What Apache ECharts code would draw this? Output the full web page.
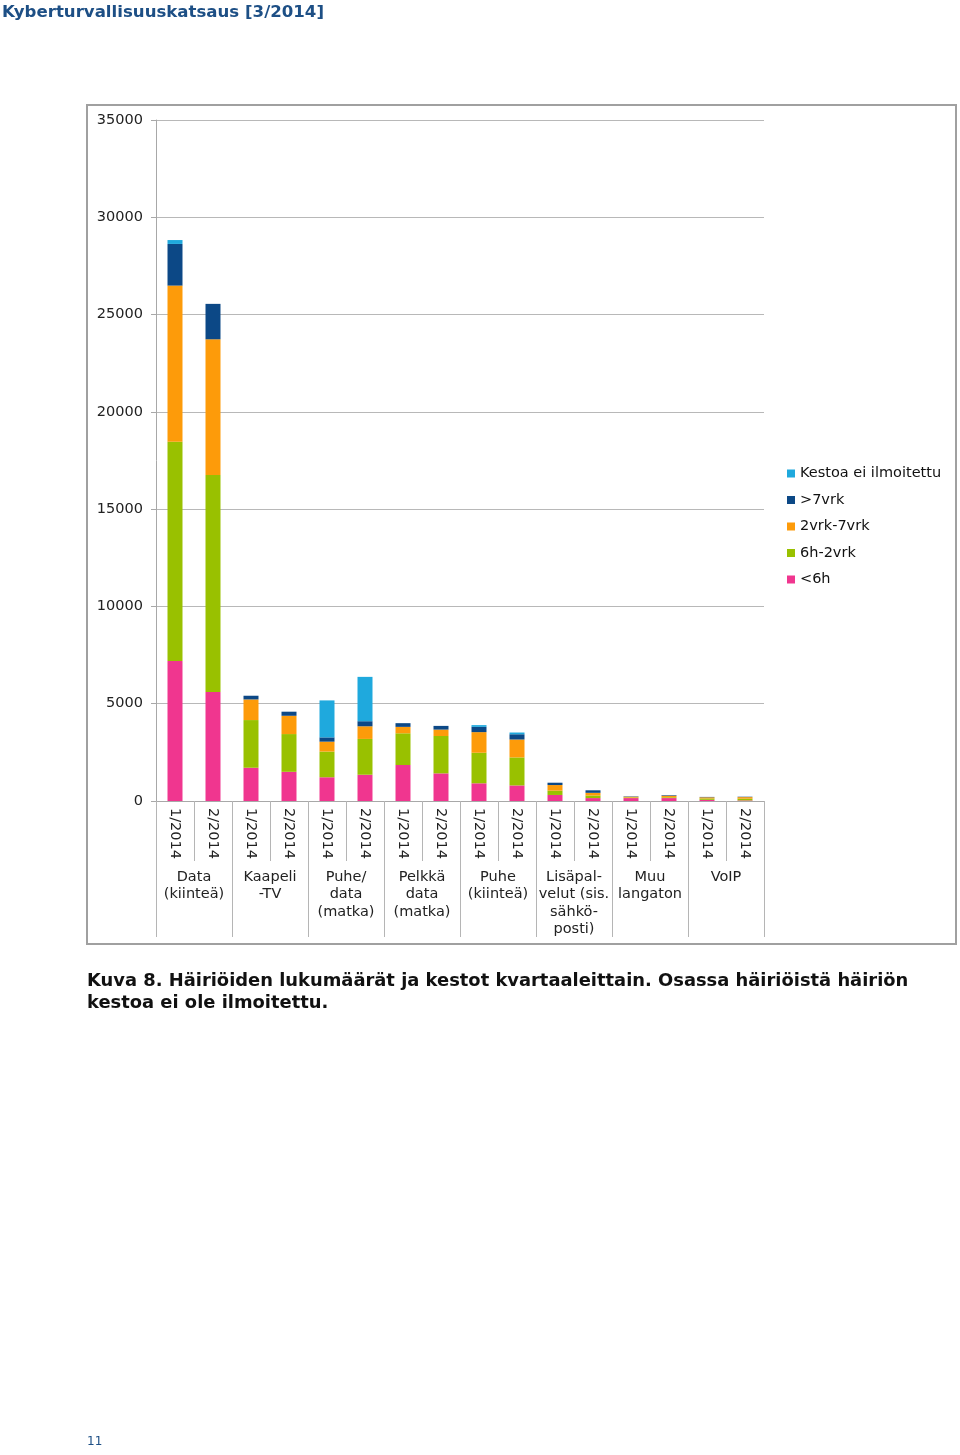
<!DOCTYPE html>
<html><head><meta charset="utf-8">
<script src="https://cdn.jsdelivr.net/npm/echarts@6/dist/echarts.min.js"></script>
<style>html,body{margin:0;padding:0;background:#fff}#c{width:960px;height:1455px}</style>
</head><body><div id="c"></div>
<script>
var periods = ["1/2014","2/2014","1/2014","2/2014","1/2014","2/2014","1/2014","2/2014","1/2014","2/2014","1/2014","2/2014","1/2014","2/2014","1/2014","2/2014"];
var groups = ["Data\n(kiinteä)","Kaapeli\n-TV","Puhe/\ndata\n(matka)","Pelkkä\ndata\n(matka)","Puhe\n(kiinteä)","Lisäpal-\nvelut (sis.\nsähkö-\nposti)","Muu\nlangaton","VoIP"];
var lt6h      = [7200,5600,1710,1500,1220,1350,1850,1420,910,800,310,150,150,150,60,30];
var h6_2vrk   = [11270,11150,2450,1940,1320,1840,1630,1920,1570,1440,220,130,30,40,70,90];
var vrk2_7    = [8020,6980,1060,940,510,650,330,330,1060,920,290,140,40,80,60,80];
var over7vrk  = [2140,1820,190,210,220,260,190,190,270,270,120,130,20,30,20,20];
var notGiven  = [200,0,0,0,1900,2280,0,0,90,90,0,0,0,0,0,0];
var yTicks = [0,5000,10000,15000,20000,25000,30000,35000];

var FONT = "DejaVu Sans";
var colors = {
  "<6h":"#f0368f","6h-2vrk":"#99c100","2vrk-7vrk":"#fd9b0a",">7vrk":"#0c4886","Kestoa ei ilmoitettu":"#1fa9dd"
};
function ser(name, data){
  return {name:name,type:'bar',stack:'s',data:data,barWidth:15,itemStyle:{color:colors[name]},xAxisIndex:0};
}
var chart = echarts.init(document.getElementById('c'));
chart.setOption({
  animation:false,
  textStyle:{fontFamily:FONT},
  grid:{left:156,right:196,top:120,bottom:654,containLabel:false},
  legend:{
    orient:'vertical',left:782,top:461,itemWidth:8,itemHeight:8,itemGap:11.5,icon:'rect',
    textStyle:{fontFamily:FONT,fontSize:14.5,color:'#111'},
    data:["Kestoa ei ilmoitettu",">7vrk","2vrk-7vrk","6h-2vrk","<6h"]
  },
  xAxis:[{
    type:'category',data:periods,position:'bottom',
    axisLine:{lineStyle:{color:'#a8a8a8',width:1}},
    axisTick:{show:true,interval:0,length:60,lineStyle:{color:'#b5b5b5'}},
    axisLabel:{interval:0,rotate:-90,margin:7,fontFamily:FONT,fontSize:14.5,color:'#222'}
  },{
    type:'category',data:groups,position:'bottom',
    axisLine:{show:false},
    axisTick:{show:true,interval:0,length:136,lineStyle:{color:'#b5b5b5'}},
    axisLabel:{interval:0,margin:67,fontFamily:FONT,fontSize:14.5,color:'#222',lineHeight:17.5,align:'center',verticalAlign:'top'}
  }],
  yAxis:{
    type:'value',min:0,max:35000,interval:5000,
    axisLine:{show:true,lineStyle:{color:'#a8a8a8'}},
    axisTick:{show:true,length:5,lineStyle:{color:'#a8a8a8'}},
    axisLabel:{margin:13,fontFamily:FONT,fontSize:14.5,color:'#222',
      formatter:function(v){return yTicks.indexOf(v)>=0?String(v):'';}},
    splitLine:{show:true,lineStyle:{color:'#b8b8b8',width:1}}
  },
  series:[ser("<6h",lt6h),ser("6h-2vrk",h6_2vrk),ser("2vrk-7vrk",vrk2_7),ser(">7vrk",over7vrk),ser("Kestoa ei ilmoitettu",notGiven)],
  graphic:[
    {type:'rect',shape:{x:87,y:105,width:869,height:839},style:{fill:'none',stroke:'#a0a0a0',lineWidth:2},silent:true,z:-1},
    {type:'text',left:2,top:4,style:{text:'Kyberturvallisuuskatsaus [3/2014]',font:'bold 16.6px "DejaVu Sans"',fill:'#1d4f85'}},
    {type:'text',left:87,top:970,style:{text:'Kuva 8. Häiriöiden lukumäärät ja kestot kvartaaleittain. Osassa häiriöistä häiriön\nkestoa ei ole ilmoitettu.',font:'bold 17.9px "DejaVu Sans"',lineHeight:22,fill:'#111'}},
    {type:'text',left:87,top:1436,style:{text:'11',font:'12px "DejaVu Sans"',fill:'#1d4f85'}}
  ]
});
</script></body></html>
